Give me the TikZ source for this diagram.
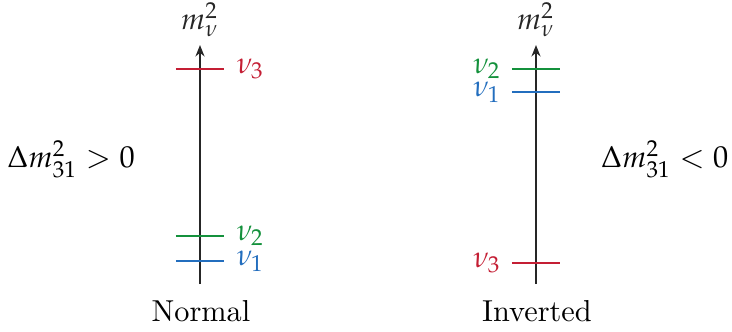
\documentclass[tikz,border=0pt]{standalone}
\usepackage{mathpazo}
\usetikzlibrary{arrows.meta}

\definecolor{nured}{RGB}{196,30,52}
\definecolor{nugreen}{RGB}{20,145,60}
\definecolor{nublue}{RGB}{35,110,190}

\tikzset{
  massaxis/.style={-{Stealth[length=3.8pt,width=3pt]}, line width=0.45pt, black!85},
  level/.style={line width=0.7pt},
}

\begin{document}
\begin{tikzpicture}[x=0.0116cm, y=-0.0116cm] % coordenadas en pixeles
    \useasboundingbox (0,0) rectangle (732,331);

    % Ejes (jerarquia normal e invertida)
    \coordinate (nbot) at (200,284);
    \coordinate (ntop) at (200,45);
    \coordinate (ibot) at (536,284);
    \coordinate (itop) at (536,45);
    \draw[massaxis] (nbot) -- (ntop) node[above=2.5pt, inner sep=0pt] (nlab) {$m_\nu^2$};
    \draw[massaxis] (ibot) -- (itop) node[above=2.5pt, inner sep=0pt] (ilab) {$m_\nu^2$};

    % Niveles, jerarquia normal
    \draw[level, nured]   (176,69)  coordinate (n3a) -- (224,69)  coordinate (n3b);
    \draw[level, nugreen] (176,236) coordinate (n2a) -- (224,236) coordinate (n2b);
    \draw[level, nublue]  (176,261) coordinate (n1a) -- (224,261) coordinate (n1b);
    \node[right=3pt, inner sep=1pt, nured]   (nu3n) at (n3b) {$\nu_3$};
    \node[right=3pt, inner sep=1pt, nugreen] (nu2n) at (n2b) {$\nu_2$};
    \node[right=3pt, inner sep=1pt, nublue]  (nu1n) at (n1b) {$\nu_1$};

    % Niveles, jerarquia invertida
    \draw[level, nugreen] (512,69)  coordinate (i2a) -- (560,69)  coordinate (i2b);
    \draw[level, nublue]  (512,92)  coordinate (i1a) -- (560,92)  coordinate (i1b);
    \draw[level, nured]   (512,263) coordinate (i3a) -- (560,263) coordinate (i3b);
    \node[left=2.5pt, inner sep=1pt, nugreen] (nu2i) at (i2a) {$\nu_2$};
    \node[left=2.5pt, inner sep=1pt, nublue]  (nu1i) at (i1a) {$\nu_1$};
    \node[left=2.5pt, inner sep=1pt, nured]   (nu3i) at (i3a) {$\nu_3$};

    % Etiquetas
    \node[anchor=base] (normal) at (201,321) {Normal};
    \node[anchor=base] (inverted) at (537,321) {Inverted};
    \node[anchor=base, inner sep=0pt] (dpos) at (71,167) {$\Delta m_{31}^2 > 0$};
    \node[anchor=base east, inner sep=0pt] (dneg) at (729,167) {$\Delta m_{31}^2 < 0$};
\end{tikzpicture}
\end{document}
